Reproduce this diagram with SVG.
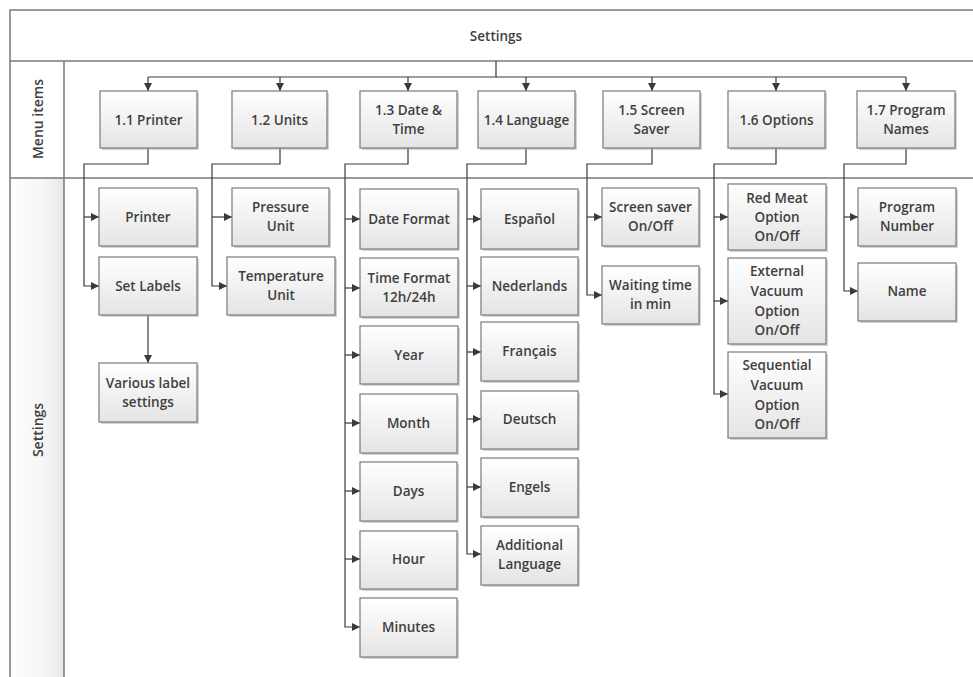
<svg xmlns="http://www.w3.org/2000/svg" width="973" height="677" viewBox="0 0 973 677">
<defs>
<linearGradient id="boxg" x1="0" y1="0" x2="0" y2="1">
<stop offset="0" stop-color="#ffffff"/>
<stop offset="1" stop-color="#e4e4e4"/>
</linearGradient>
<linearGradient id="laneg" x1="0" y1="0" x2="1" y2="0">
<stop offset="0" stop-color="#ffffff"/>
<stop offset="0.6" stop-color="#f6f6f6"/>
<stop offset="1" stop-color="#e8e8e8"/>
</linearGradient>
<marker id="arr" markerUnits="userSpaceOnUse" markerWidth="9" markerHeight="8" refX="8" refY="4" orient="auto">
<path d="M0,0 L8,4 L0,8 Z" fill="#3a3a3a"/>
</marker>
</defs>
<style>
.frame{stroke:#7a7a7a;stroke-width:1.5;fill:none}
.box rect.b{fill:url(#boxg);stroke:#7a7a7a;stroke-width:1.2}
.box rect.s{fill:#a8a8a8;opacity:0.5}
text{font-family:"Open Sans","Liberation Sans",sans-serif;font-size:13.5px;fill:#404040;font-weight:600;text-anchor:middle;dominant-baseline:central}
text.lane{font-size:14px}
.c{fill:none;stroke:#3a3a3a;stroke-width:1.2;marker-end:url(#arr)}
.cl{fill:none;stroke:#3a3a3a;stroke-width:1.2}
</style>
<rect x="0" y="0" width="973" height="677" fill="#ffffff"/>
<g id="pool">
<rect x="10" y="178" width="54" height="499" fill="url(#laneg)"/>
<path class="frame" d="M973 10 H10 V677 M10 61 H973 M10 178 H973 M64 61 V677"/>
<text x="496" y="36">Settings</text>
<text class="lane" transform="translate(37,119) rotate(-90)" x="0" y="0">Menu items</text>
<text class="lane" transform="translate(37,430) rotate(-90)" x="0" y="0">Settings</text>
</g>
<g id="connectors">
<path class="cl" d="M496 61 V77 H148"/>
<path class="cl" d="M496 77 H906"/>
<path class="c" d="M148 77 V91"/>
<path class="c" d="M280 77 V91"/>
<path class="c" d="M408 77 V91"/>
<path class="c" d="M526 77 V91"/>
<path class="c" d="M652 77 V91"/>
<path class="c" d="M776 77 V91"/>
<path class="c" d="M906 77 V91"/>
<path class="c" d="M148 148 V164 H84 V286 H99"/>
<path class="c" d="M84 217 H99"/>
<path class="c" d="M148 315 V363"/>
<path class="c" d="M280 148 V164 H212 V286 H227"/>
<path class="c" d="M212 217 H232"/>
<path class="c" d="M408 148 V164 H345 V627 H360"/>
<path class="c" d="M345 219 H360"/>
<path class="c" d="M345 288 H360"/>
<path class="c" d="M345 355 H360"/>
<path class="c" d="M345 423 H360"/>
<path class="c" d="M345 491 H360"/>
<path class="c" d="M345 559 H360"/>
<path class="c" d="M526 148 V164 H467 V554 H481"/>
<path class="c" d="M467 219 H481"/>
<path class="c" d="M467 286 H481"/>
<path class="c" d="M467 352 H481"/>
<path class="c" d="M467 419 H481"/>
<path class="c" d="M467 487 H481"/>
<path class="c" d="M652 148 V164 H587 V295 H602"/>
<path class="c" d="M587 217 H602"/>
<path class="c" d="M776 148 V164 H714 V394 H728"/>
<path class="c" d="M714 217 H728"/>
<path class="c" d="M714 301 H728"/>
<path class="c" d="M906 148 V164 H844 V291 H858"/>
<path class="c" d="M844 217 H858"/>
</g>
<g id="n11" class="box"><rect class="s" x="102" y="93" width="97" height="57"/><rect class="b" x="100" y="91" width="97" height="57"/><text x="148.5" y="119.5">1.1 Printer</text></g>
<g id="n12" class="box"><rect class="s" x="234" y="93" width="95" height="57"/><rect class="b" x="232" y="91" width="95" height="57"/><text x="279.5" y="119.5">1.2 Units</text></g>
<g id="n13" class="box"><rect class="s" x="362" y="93" width="97" height="57"/><rect class="b" x="360" y="91" width="97" height="57"/><text x="408.5" y="110">1.3 Date &amp;</text><text x="408.5" y="129">Time</text></g>
<g id="n14" class="box"><rect class="s" x="480" y="93" width="97" height="57"/><rect class="b" x="478" y="91" width="97" height="57"/><text x="526.5" y="119.5">1.4 Language</text></g>
<g id="n15" class="box"><rect class="s" x="605" y="93" width="97" height="57"/><rect class="b" x="603" y="91" width="97" height="57"/><text x="651.5" y="110">1.5 Screen</text><text x="651.5" y="129">Saver</text></g>
<g id="n16" class="box"><rect class="s" x="730" y="93" width="97" height="57"/><rect class="b" x="728" y="91" width="97" height="57"/><text x="776.5" y="119.5">1.6 Options</text></g>
<g id="n17" class="box"><rect class="s" x="859" y="93" width="98" height="57"/><rect class="b" x="857" y="91" width="98" height="57"/><text x="906" y="110">1.7 Program</text><text x="906" y="129">Names</text></g>

<g id="printer" class="box"><rect class="s" x="101" y="190" width="98" height="58"/><rect class="b" x="99" y="188" width="98" height="58"/><text x="148" y="217">Printer</text></g>
<g id="setlabels" class="box"><rect class="s" x="101" y="259" width="98" height="58"/><rect class="b" x="99" y="257" width="98" height="58"/><text x="148" y="286">Set Labels</text></g>
<g id="various" class="box"><rect class="s" x="101" y="365" width="98" height="59"/><rect class="b" x="99" y="363" width="98" height="59"/><text x="148" y="383">Various label</text><text x="148" y="402">settings</text></g>
<g id="pressure" class="box"><rect class="s" x="234" y="190" width="97" height="58"/><rect class="b" x="232" y="188" width="97" height="58"/><text x="280.5" y="207">Pressure</text><text x="280.5" y="226">Unit</text></g>
<g id="temperature" class="box"><rect class="s" x="229" y="259" width="108" height="58"/><rect class="b" x="227" y="257" width="108" height="58"/><text x="281" y="276">Temperature</text><text x="281" y="295">Unit</text></g>
<g id="dateformat" class="box"><rect class="s" x="362" y="191" width="98" height="60"/><rect class="b" x="360" y="189" width="98" height="60"/><text x="409" y="219">Date Format</text></g>
<g id="timeformat" class="box"><rect class="s" x="362" y="260" width="98" height="59"/><rect class="b" x="360" y="258" width="98" height="59"/><text x="409" y="278">Time Format</text><text x="409" y="297">12h/24h</text></g>
<g id="year" class="box"><rect class="s" x="362" y="328" width="98" height="58"/><rect class="b" x="360" y="326" width="98" height="58"/><text x="409" y="355">Year</text></g>
<g id="month" class="box"><rect class="s" x="362" y="396" width="97" height="59"/><rect class="b" x="360" y="394" width="97" height="59"/><text x="408.5" y="423">Month</text></g>
<g id="days" class="box"><rect class="s" x="362" y="464" width="97" height="59"/><rect class="b" x="360" y="462" width="97" height="59"/><text x="408.5" y="491">Days</text></g>
<g id="hour" class="box"><rect class="s" x="362" y="533" width="97" height="58"/><rect class="b" x="360" y="531" width="97" height="58"/><text x="408.5" y="559">Hour</text></g>
<g id="minutes" class="box"><rect class="s" x="362" y="600" width="97" height="59"/><rect class="b" x="360" y="598" width="97" height="59"/><text x="408.5" y="627">Minutes</text></g>
<g id="espanol" class="box"><rect class="s" x="483" y="191" width="97" height="60"/><rect class="b" x="481" y="189" width="97" height="60"/><text x="529.5" y="219">Español</text></g>
<g id="nederlands" class="box"><rect class="s" x="483" y="259" width="97" height="58"/><rect class="b" x="481" y="257" width="97" height="58"/><text x="529.5" y="286">Nederlands</text></g>
<g id="francais" class="box"><rect class="s" x="483" y="324" width="97" height="59"/><rect class="b" x="481" y="322" width="97" height="59"/><text x="529.5" y="351">Français</text></g>
<g id="deutsch" class="box"><rect class="s" x="483" y="393" width="97" height="58"/><rect class="b" x="481" y="391" width="97" height="58"/><text x="529.5" y="419">Deutsch</text></g>
<g id="engels" class="box"><rect class="s" x="483" y="460" width="97" height="59"/><rect class="b" x="481" y="458" width="97" height="59"/><text x="529.5" y="487">Engels</text></g>
<g id="additional" class="box"><rect class="s" x="483" y="528" width="97" height="59"/><rect class="b" x="481" y="526" width="97" height="59"/><text x="529.5" y="545">Additional</text><text x="529.5" y="564">Language</text></g>
<g id="screensaver" class="box"><rect class="s" x="604" y="190" width="97" height="58"/><rect class="b" x="602" y="188" width="97" height="58"/><text x="650.5" y="207">Screen saver</text><text x="650.5" y="226">On/Off</text></g>
<g id="waiting" class="box"><rect class="s" x="604" y="268" width="97" height="58"/><rect class="b" x="602" y="266" width="97" height="58"/><text x="650.5" y="285">Waiting time</text><text x="650.5" y="304">in min</text></g>
<g id="redmeat" class="box"><rect class="s" x="730" y="186" width="98" height="66"/><rect class="b" x="728" y="184" width="98" height="66"/><text x="777" y="198">Red Meat</text><text x="777" y="217">Option</text><text x="777" y="236">On/Off</text></g>
<g id="external" class="box"><rect class="s" x="730" y="260" width="98" height="86"/><rect class="b" x="728" y="258" width="98" height="86"/><text x="777" y="271">External</text><text x="777" y="291">Vacuum</text><text x="777" y="311">Option</text><text x="777" y="330">On/Off</text></g>
<g id="sequential" class="box"><rect class="s" x="730" y="354" width="98" height="86"/><rect class="b" x="728" y="352" width="98" height="86"/><text x="777" y="365">Sequential</text><text x="777" y="385">Vacuum</text><text x="777" y="405">Option</text><text x="777" y="424">On/Off</text></g>
<g id="prognumber" class="box"><rect class="s" x="860" y="190" width="98" height="58"/><rect class="b" x="858" y="188" width="98" height="58"/><text x="907" y="207">Program</text><text x="907" y="226">Number</text></g>
<g id="name" class="box"><rect class="s" x="860" y="265" width="98" height="58"/><rect class="b" x="858" y="263" width="98" height="58"/><text x="907" y="291">Name</text></g>
</svg>
